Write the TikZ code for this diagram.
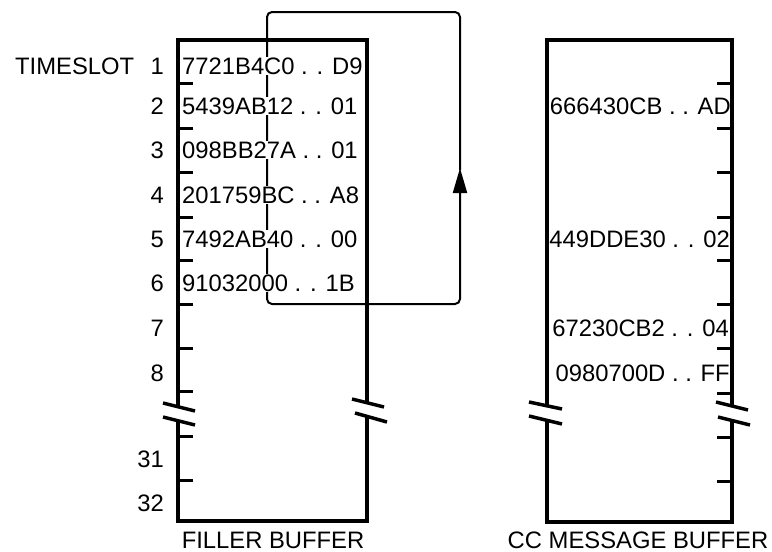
\documentclass[tikz,border=0pt]{standalone}
\usepackage{fontspec}
\setmainfont{Liberation Sans}
\usetikzlibrary{arrows.meta}
\begin{document}
\begin{tikzpicture}[x=1pt,y=-1pt,
  txt/.style={font=\fontsize{23.8}{28}\selectfont, inner sep=0pt},
  entry/.style={txt, fill=white, inner ysep=0.8pt, inner xsep=0pt},
  outline/.style={line width=4.5pt, line join=miter},
  tickmark/.style={line width=3pt},
  brk/.style={line width=3.5pt},
  loopline/.style={line width=2pt, rounded corners=5pt}]
\useasboundingbox (0,0) rectangle (772,552);
% loop connector (drawn first, hidden behind text)
\coordinate (tip) at (460,168);
\coordinate (ur) at (460,12);
\coordinate (ul) at (267,12);
\coordinate (ll) at (267,304);
\coordinate (lr) at (460,304);
\draw[loopline, -{Triangle[length=25pt,width=14pt]}] (460,170) -- (ur) -- (ul) -- (ll) -- (lr) -- (tip);
\draw[line width=2.8pt] (460,298) -- (460,190);
% labels
\node[txt, anchor=base west] (ts) at (15,74) {TIMESLOT};
\foreach \n/\y in {1/74,2/114,3/158,4/203,5/247,6/291,7/336,8/381,31/467,32/511}
  \node[txt, anchor=base east] (n\n) at (164,\y) {\n};
\node[entry, anchor=base west] (f1) at (182,74) {7721B4C0 . . D9};
\node[entry, anchor=base west] (f2) at (182,114) {5439AB12 . . 01};
\node[entry, anchor=base west] (f3) at (182,158) {098BB27A . . 01};
\node[entry, anchor=base west] (f4) at (182,203) {201759BC . . A8};
\node[entry, anchor=base west] (f5) at (182,247) {7492AB40 . . 00};
\node[entry, anchor=base west] (f6) at (182,291) {91032000 . . 1B};
\node[entry, anchor=base east] (c2) at (731,114) {666430CB . . AD};
\node[entry, anchor=base east] (c5) at (730,247) {449DDE30 . . 02};
\node[entry, anchor=base east] (c7) at (729,336) {67230CB2 . . 04};
\node[entry, anchor=base east] (c8) at (730,381) {0980700D . . FF};
\node[txt, anchor=base] (fb) at (273,548) {FILLER BUFFER};
\node[txt, anchor=base] (cb) at (638,548) {CC MESSAGE BUFFER};
% filler buffer
\draw[outline] (178,407) -- (178,40) -- (367,40) -- (367,403);
\draw[outline] (367,417) -- (367,521) -- (178,521) -- (178,421);
\foreach \y in {83,128,172,217,260,304,348,391,436,480}
  \draw[tickmark] (178,\y) -- (193,\y);
\draw[brk] (163,403) -- (195,411);
\draw[brk] (163,417) -- (195,425);
\draw[brk] (352,399) -- (384,407);
\draw[brk] (355,413) -- (387,422);
% cc message buffer
\draw[outline] (547,406) -- (547,40) -- (732,40) -- (732,406);
\draw[outline] (732,421) -- (732,522) -- (547,522) -- (547,420);
\foreach \y in {83,128,172,217,260,304,348,393,437,481}
  \draw[tickmark] (732,\y) -- (717,\y);
\draw[brk] (529,402) -- (562,409);
\draw[brk] (529,416) -- (562,424);
\draw[brk] (716,402) -- (748,410);
\draw[brk] (718,417) -- (750,425);
\end{tikzpicture}
\end{document}
